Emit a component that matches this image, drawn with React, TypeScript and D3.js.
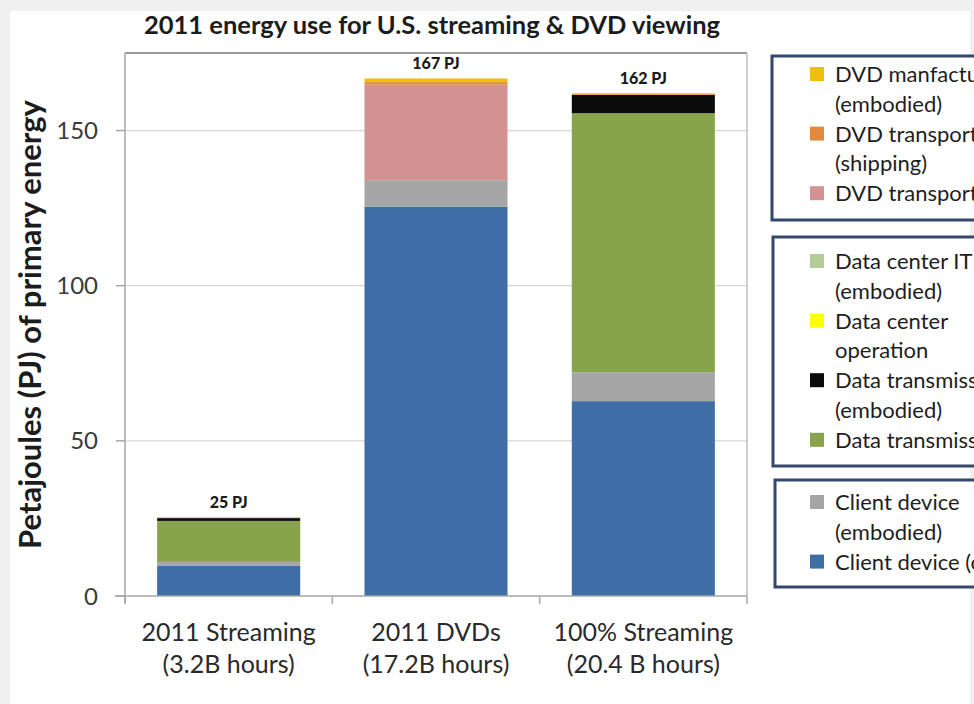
import React from "react";
import * as d3 from "d3";

const categories = ["2011 Streaming", "2011 DVDs", "100% Streaming"];
const categorySub = ["(3.2B hours)", "(17.2B hours)", "(20.4 B hours)"];
const totalLabels = ["25 PJ", "167 PJ", "162 PJ"];

const clientDeviceOp = [9.7, 125.5, 62.8];
const clientDeviceEmb = [1.3, 8.5, 9.3];
const dataTransOp = [13.2, 0, 83.5];
const dataTransEmb = [0.9, 0, 5.9];
const dataCenterOp = [0.2, 0, 0.4];
const dataCenterIT = [0.1, 0, 0.2];
const dvdTransport = [0, 30.8, 0];
const dvdShipping = [0, 0.8, 0];
const dvdManufacturing = [0, 1.2, 0];

const yTicks = [0, 50, 100, 150];

const seriesKeys = [
  "clientDeviceOp",
  "clientDeviceEmb",
  "dataTransOp",
  "dataTransEmb",
  "dataCenterOp",
  "dataCenterIT",
  "dvdTransport",
  "dvdShipping",
  "dvdManufacturing",
];
const seriesValues: Record<string, number[]> = {
  clientDeviceOp,
  clientDeviceEmb,
  dataTransOp,
  dataTransEmb,
  dataCenterOp,
  dataCenterIT,
  dvdTransport,
  dvdShipping,
  dvdManufacturing,
};
const seriesColors: Record<string, string> = {
  clientDeviceOp: "#3f6ea6",
  clientDeviceEmb: "#a6a6a6",
  dataTransOp: "#87a44b",
  dataTransEmb: "#0b0b0b",
  dataCenterOp: "#e8a040",
  dataCenterIT: "#b5cc98",
  dvdTransport: "#d49292",
  dvdShipping: "#e08a3e",
  dvdManufacturing: "#f2bd10",
};
const legendColors: Record<string, string> = {
  ...seriesColors,
  dataCenterOp: "#ffff00",
};

// legend groups: [key, lines]
const legendGroups: [string, string[]][][] = [
  [
    ["dvdManufacturing", ["DVD manfacturing", "(embodied)"]],
    ["dvdShipping", ["DVD transport", "(shipping)"]],
    ["dvdTransport", ["DVD transport (consumer)"]],
  ],
  [
    ["dataCenterIT", ["Data center IT", "(embodied)"]],
    ["dataCenterOp", ["Data center", "operation"]],
    ["dataTransEmb", ["Data transmission", "(embodied)"]],
    ["dataTransOp", ["Data transmission (operation)"]],
  ],
  [
    ["clientDeviceEmb", ["Client device", "(embodied)"]],
    ["clientDeviceOp", ["Client device (operation)"]],
  ],
];

const W = 974;
const H = 704;
const FONT = "Lato, 'Open Sans', sans-serif";

export default function App() {
  React.useEffect(() => {
    document.body.style.margin = "0";
  }, []);

  const plot = { left: 125, right: 747, top: 53, bottom: 596 };
  const x = d3
    .scaleBand<string>()
    .domain(categories)
    .range([plot.left, plot.right])
    .paddingInner(0.31)
    .paddingOuter(0.155);
  const y = d3.scaleLinear().domain([0, 175]).range([plot.bottom, plot.top]);

  const table = categories.map((c, i) => {
    const row: any = { cat: c };
    seriesKeys.forEach((k) => (row[k] = seriesValues[k][i]));
    return row;
  });
  const stacked = d3.stack().keys(seriesKeys)(table);
  const totals = categories.map((_, i) =>
    d3.sum(seriesKeys, (k) => seriesValues[k][i])
  );

  const step = x.step();
  const boundaries = [0, 1, 2, 3].map((i) => plot.left + i * step);

  const legendBoxes = [
    { x: 772, y: 56, h: 164, rowStart: 74 },
    { x: 773, y: 237, h: 229, rowStart: 261 },
    { x: 775, y: 480, h: 107, rowStart: 502 },
  ];
  const lineH = 29.8;

  return (
    <svg
      width={W}
      height={H}
      style={{ display: "block", position: "absolute", left: 0, top: 0 }}
    >
      <rect x={0} y={0} width={W} height={H} fill="#f0f0f0" />
      <rect x={10} y={11} width={960} height={H - 11} fill="#ffffff" />

      <text
        x={432}
        y={34}
        textAnchor="middle"
        fontFamily={FONT}
        fontWeight="bold"
        fontSize={25.5}
        fill="#1c1c1c"
      >
        2011 energy use for U.S. streaming &amp; DVD viewing
      </text>

      {/* gridlines */}
      {yTicks
        .filter((t) => t > 0)
        .map((t) => (
          <line
            key={t}
            x1={plot.left}
            x2={plot.right}
            y1={y(t)}
            y2={y(t)}
            stroke="#d6d6d6"
            strokeWidth={1.2}
          />
        ))}

      {/* plot frame */}
      <line x1={plot.left} x2={plot.right} y1={plot.top} y2={plot.top} stroke="#9a9a9a" strokeWidth={2} />
      <line x1={plot.right} x2={plot.right} y1={plot.top} y2={plot.bottom} stroke="#bcbcbc" strokeWidth={1.5} />

      {/* bars */}
      {stacked.map((s) => (
        <g key={s.key} fill={seriesColors[s.key]}>
          {s.map((d, i) =>
            d[1] - d[0] > 0 ? (
              <rect
                key={i}
                x={x(categories[i])}
                width={x.bandwidth()}
                y={y(d[1])}
                height={y(d[0]) - y(d[1])}
              />
            ) : null
          )}
        </g>
      ))}

      {/* axes */}
      <line x1={plot.left} x2={plot.left} y1={plot.top} y2={plot.bottom + 7} stroke="#a6a6a6" strokeWidth={1.5} />
      <line x1={plot.left - 10} x2={plot.right} y1={plot.bottom} y2={plot.bottom} stroke="#a6a6a6" strokeWidth={1.5} />
      {boundaries.map((b, i) => (
        <line key={i} x1={b} x2={b} y1={plot.bottom} y2={plot.bottom + 8} stroke="#a6a6a6" strokeWidth={1.5} />
      ))}
      {yTicks.map((t) => (
        <g key={t}>
          <line x1={plot.left - 9} x2={plot.left} y1={y(t)} y2={y(t)} stroke="#a6a6a6" strokeWidth={1.5} />
          <text
            x={plot.left - 27}
            y={y(t) + 8.5}
            textAnchor="end"
            fontFamily={FONT}
            fontSize={24}
            fill="#3a3a3a"
          >
            {t}
          </text>
        </g>
      ))}

      <text
        transform={`translate(41, ${(plot.top + plot.bottom) / 2}) rotate(-90)`}
        textAnchor="middle"
        fontFamily={FONT}
        fontWeight="bold"
        fontSize={31}
        fill="#1c1c1c"
      >
        Petajoules (PJ) of primary energy
      </text>

      {/* category labels */}
      {categories.map((c, i) => {
        const cx = (x(c) as number) + x.bandwidth() / 2;
        return (
          <g key={c} fontFamily={FONT} fontSize={25} fill="#2a2a2a" textAnchor="middle">
            <text x={cx} y={641}>{c}</text>
            <text x={cx} y={673}>{categorySub[i]}</text>
          </g>
        );
      })}

      {/* total labels */}
      {categories.map((c, i) => (
        <text
          key={c}
          x={(x(c) as number) + x.bandwidth() / 2}
          y={y(totals[i]) - 9}
          textAnchor="middle"
          fontFamily={FONT}
          fontWeight="900"
          fontSize={16}
          fill="#1c1c1c"
        >
          {totalLabels[i]}
        </text>
      ))}

      {/* legend */}
      {legendGroups.map((group, gi) => {
        const box = legendBoxes[gi];
        let row = 0;
        return (
          <g key={gi}>
            <rect
              x={box.x}
              y={box.y}
              width={W - box.x + 20}
              height={box.h}
              fill="#ffffff"
              stroke="#34476c"
              strokeWidth={3}
            />
            {group.map(([key, lines]) => {
              const startRow = row;
              row += lines.length;
              const cy = box.rowStart + startRow * lineH;
              return (
                <g key={key}>
                  <rect x={810} y={cy - 7} width={14} height={14} fill={legendColors[key]} />
                  {lines.map((ln, li) => (
                    <text
                      key={li}
                      x={835}
                      y={cy + 8 + li * lineH}
                      fontFamily={FONT}
                      fontSize={22}
                      fill="#1e1e1e"
                    >
                      {ln}
                    </text>
                  ))}
                </g>
              );
            })}
          </g>
        );
      })}
    </svg>
  );
}
